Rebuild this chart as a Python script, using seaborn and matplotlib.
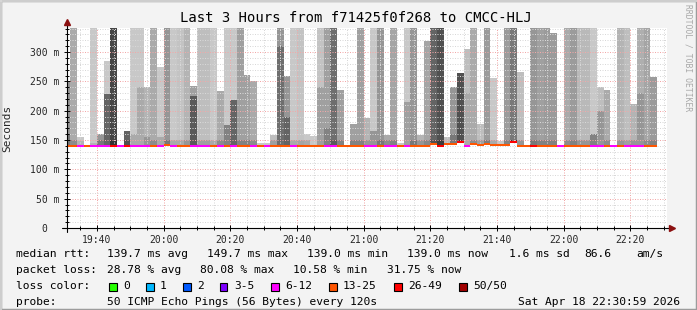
import numpy as np
import pandas as pd
import matplotlib
matplotlib.use("Agg")
import matplotlib.pyplot as plt
from matplotlib.patches import Rectangle
from matplotlib.ticker import FixedLocator, MultipleLocator
import seaborn as sns

sns.set_theme(style="white")
plt.rcParams['font.family'] = ['DejaVu Sans Mono', 'DejaVu Sans']

W, H = 697, 310

# ---------------- data ----------------
first_column_start = 30   # minutes after 19:00 (19:30)
step_minutes = 2          # one column per 120 s probe

# upper edge of the smoke (ms); 345 = beyond the top of the chart
smoke_top = [250, 345, 156, 141, 345, 161, 284, 345, 141, 165,
             345, 345, 241, 345, 275, 345, 345, 345, 345, 242,
             345, 345, 345, 234, 345, 345, 345, 261, 251, 145,
             145, 159, 345, 260, 345, 345, 160, 157, 345, 345,
             345, 235, 142, 177, 345, 188, 345, 345, 159, 345,
             145, 345, 345, 159, 318, 345, 345, 155, 241, 265,
             306, 345, 177, 345, 255, 148, 345, 345, 266, 141,
             345, 345, 345, 332, 141, 345, 345, 345, 345, 345,
             241, 235, 141, 345, 345, 211, 345, 345, 258]
# gray level (0-255) of the outer smoke
smoke_gray = [150, 170, 200, 200, 200, 150, 200, 70, 200, 100,
              200, 200, 180, 170, 200, 150, 200, 195, 180, 160,
              190, 190, 200, 170, 200, 200, 160, 160, 170, 200,
              200, 190, 150, 150, 200, 195, 200, 200, 195, 160,
              110, 160, 200, 160, 160, 180, 200, 150, 170, 165,
              200, 200, 150, 180, 165, 100, 80, 190, 150, 80,
              190, 170, 190, 155, 200, 200, 155, 120, 190, 200,
              150, 160, 155, 155, 200, 170, 155, 185, 185, 200,
              190, 170, 200, 180, 190, 180, 175, 165, 155]
# upper edge (ms) and gray level of the dense smoke core near the median
core_top = [160, 150, 148, 141, 145, 150, 229, 150, 141, 150,
            160, 240, 155, 150, 155, 150, 150, 150, 150, 225,
            150, 150, 150, 150, 176, 218, 150, 150, 150, 145,
            145, 150, 310, 190, 150, 150, 150, 150, 241, 170,
            150, 150, 142, 150, 150, 150, 165, 150, 150, 150,
            145, 215, 150, 150, 150, 150, 150, 150, 160, 150,
            230, 150, 150, 150, 150, 148, 150, 150, 150, 141,
            150, 150, 150, 150, 141, 150, 150, 150, 150, 160,
            200, 150, 141, 150, 150, 150, 230, 150, 150]
core_gray = [120, 140, 180, 200, 180, 120, 100, 50, 200, 80,
             170, 170, 150, 140, 170, 120, 170, 170, 150, 90,
             160, 160, 170, 140, 130, 100, 130, 130, 140, 200,
             200, 160, 110, 100, 170, 165, 170, 200, 160, 130,
             90, 130, 200, 130, 130, 150, 150, 120, 140, 130,
             200, 160, 120, 150, 135, 80, 60, 190, 120, 60,
             170, 140, 160, 125, 170, 200, 130, 60, 150, 200,
             120, 130, 130, 130, 200, 140, 130, 150, 150, 130,
             150, 140, 200, 150, 160, 150, 150, 140, 130]
# median rtt (ms)
median_rtt = [139.5, 139.5, 139.5, 139.5, 139.5, 139.5, 140.5, 139.5, 139.5, 139.5,
              139.5, 139.5, 139.5, 139.5, 139.5, 140.8, 139.5, 139.5, 139.5, 139.5,
              139.5, 139.5, 139.5, 139.5, 139.5, 139.5, 139.5, 139.5, 139.5, 139.5,
              139.5, 139.5, 139.5, 139.5, 139.5, 139.5, 139.5, 139.5, 139.5, 139.5,
              139.5, 139.5, 139.5, 139.5, 139.5, 139.5, 139.5, 139.5, 139.5, 139.5,
              139.5, 139.5, 139.5, 139.5, 139.5, 142.7, 140.0, 142.7, 142.7, 147.0,
              140.0, 143.0, 141.5, 143.8, 141.5, 141.5, 141.5, 146.6, 140.0, 140.0,
              140.0, 139.5, 139.5, 139.5, 139.5, 139.5, 139.5, 139.5, 139.5, 139.5,
              139.5, 139.5, 139.5, 139.5, 139.5, 139.5, 139.5, 139.5, 139.5]
# loss class of each column
loss_class = ["13-25", "13-25", "6-12", "13-25", "6-12", "6-12", "6-12", "26-49", "6-12", "26-49",
              "6-12", "6-12", "6-12", "13-25", "6-12", "13-25", "6-12", "13-25", "13-25", "6-12",
              "6-12", "6-12", "13-25", "6-12", "13-25", "6-12", "13-25", "13-25", "6-12", "13-25",
              "6-12", "13-25", "13-25", "13-25", "6-12", "13-25", "13-25", "13-25", "13-25", "6-12",
              "6-12", "13-25", "13-25", "13-25", "13-25", "6-12", "6-12", "13-25", "6-12", "6-12",
              "13-25", "6-12", "13-25", "13-25", "13-25", "13-25", "26-49", "13-25", "13-25", "26-49",
              "6-12", "13-25", "13-25", "13-25", "13-25", "13-25", "13-25", "26-49", "13-25", "13-25",
              "26-49", "13-25", "13-25", "13-25", "6-12", "13-25", "13-25", "13-25", "13-25", "6-12",
              "6-12", "13-25", "6-12", "13-25", "6-12", "6-12", "6-12", "13-25", "13-25"]

loss_labels = ["0", "1", "2", "3-5", "6-12", "13-25", "26-49", "50/50"]
loss_colors = ["#26ff00", "#00b8ff", "#0059ff", "#7e00ff", "#ff00ff", "#ff5500", "#ff0000", "#a10000"]

title = "Last 3 Hours from f71425f0f268 to CMCC-HLJ"
ytick_values = [0, 50, 100, 150, 200, 250, 300]
ytick_labels = ["0  ", "50 m", "100 m", "150 m", "200 m", "250 m", "300 m"]
xtick_labels = ["19:40", "20:00", "20:20", "20:40", "21:00", "21:20", "21:40", "22:00", "22:20"]

rtt_stats = ["139.7 ms avg", "149.7 ms max", "139.0 ms min", "139.0 ms now", "1.6 ms sd", "86.6", "am/s"]
loss_stats = ["28.78 % avg", "80.08 % max", "10.58 % min", "31.75 % now"]
probe_text = "50 ICMP Echo Pings (56 Bytes) every 120s"
stamp_text = "Sat Apr 18 22:30:59 2026"

# ---------------- figure ----------------
BG = "#f3f3f3"
fig = plt.figure(figsize=(W / 100, H / 100), dpi=100, facecolor=BG)
ax = fig.add_axes([67 / W, (H - 228) / H, 600 / W, 200 / H])
ax.set_facecolor("white")

n = len(smoke_top)
centers = [first_column_start + step_minutes * i + step_minutes / 2 for i in range(n)]
lefts = [first_column_start + step_minutes * i for i in range(n)]


def gray_hex(g):
    g = int(g)
    return "#{0:02x}{0:02x}{0:02x}".format(g)


def smoke_layer(values, grays, name):
    keys = [f"{name}{i}" for i in range(n)]
    df = pd.DataFrame({"t": centers, "v": values, "key": keys})
    pal = {k: gray_hex(g) for k, g in zip(keys, grays)}
    sns.barplot(data=df, x="t", y="v", hue="key", palette=pal, native_scale=True,
                width=1, dodge=False, errorbar=None, saturation=1, legend=False,
                linewidth=0, edgecolor="none", ax=ax, zorder=1)


smoke_layer(smoke_top, smoke_gray, "outer")
smoke_layer(core_top, core_gray, "core")
# clear the area under the smoke (below the fastest pings)
base_df = pd.DataFrame({"t": centers, "v": [m - 1.6 for m in median_rtt]})
sns.barplot(data=base_df, x="t", y="v", color="white", native_scale=True, width=1,
            errorbar=None, saturation=1, linewidth=0, edgecolor="none", ax=ax, zorder=1)

# median line coloured by loss
col_of = dict(zip(loss_labels, loss_colors))
ax.hlines(median_rtt, lefts, [l + step_minutes for l in lefts],
          colors=[col_of[c] for c in loss_class], linewidth=1.45, zorder=4)

# axes ranges / grid (x in minutes after 19:00)
ax.set_xlim(31, 211)
ax.set_ylim(0, 341)
major_x = [40 + 20 * k for k in range(len(xtick_labels))]
ax.xaxis.set_major_locator(FixedLocator(major_x))
ax.xaxis.set_minor_locator(MultipleLocator(5))
ax.set_xticklabels(xtick_labels)
ax.yaxis.set_major_locator(FixedLocator(ytick_values))
ax.yaxis.set_minor_locator(MultipleLocator(10))
ax.set_yticklabels(ytick_labels)
ax.set_xlabel("")
ax.set_ylabel("Seconds", fontsize=8, family="DejaVu Sans Mono")
ax.yaxis.set_label_coords((12 - 67) / 600, 0.5)

ax.grid(which="minor", color="#d8d8d8", linestyle=(0, (1, 1.5)), linewidth=0.72)
ax.grid(which="major", color="#f2a8a8", linestyle=(0, (1, 1.5)), linewidth=0.72)
ax.set_axisbelow(False)

ax.tick_params(which="major", direction="inout", length=4, width=0.7, color="black",
               labelsize=7, pad=3.2)
ax.tick_params(which="minor", direction="inout", length=3, width=0.7, color="black")
ax.tick_params(axis="x", which="both", bottom=True, top=False)
ax.tick_params(axis="y", which="both", left=True, right=False)
for lab in ax.get_xticklabels() + ax.get_yticklabels():
    lab.set_family("DejaVu Sans Mono")

for s in ax.spines.values():
    s.set_visible(False)

# axis lines with arrows
ax.plot([0, 0], [-0.02, 1.015], transform=ax.transAxes, color="black", lw=0.8,
        clip_on=False, zorder=5)
ax.plot([-0.008, 1.003], [0, 0], transform=ax.transAxes, color="black", lw=0.8,
        clip_on=False, zorder=5)
ax.plot([0], [1.03], marker="^", markersize=4.5, color="#8b1010", transform=ax.transAxes,
        clip_on=False, zorder=6)
ax.plot([1.009], [0], marker=">", markersize=4.5, color="#8b1010", transform=ax.transAxes,
        clip_on=False, zorder=6)

# title and watermark
fig.text(355.5 / W, 1 - 18 / H, title, ha="center", va="center", fontsize=10,
         family="DejaVu Sans Mono", color="black")
fig.text(688 / W, 1 - 4 / H, "RRDTOOL / TOBI OETIKER", rotation=270, ha="center",
         va="top", fontsize=5.8, family="DejaVu Sans Mono", color="#a8a8a8")

# legend lines
LF = 8.1


def ftext(x, y, s):
    fig.text(x / W, 1 - y / H, s, ha="left", va="center", fontsize=LF,
             family="DejaVu Sans Mono", color="black")


ftext(16, 254, "median rtt:")
for x, s in zip([107, 207, 307, 407, 509, 584, 636], rtt_stats):
    ftext(x, 254, s)
ftext(16, 270, "packet loss:")
for x, s in zip([107, 200, 293, 387], loss_stats):
    ftext(x, 270, s)
ftext(16, 286, "loss color:")
box_x = [109, 146, 183, 220, 271, 329, 394, 459]
for x, lab, c in zip(box_x, loss_labels, loss_colors):
    fig.add_artist(Rectangle((x / W, 1 - 290.5 / H), 7.5 / W, 8 / H, transform=fig.transFigure,
                             facecolor=c, edgecolor="black", linewidth=0.8))
    ftext(x + 14, 286, lab)
ftext(16, 302, "probe:")
ftext(107, 302, probe_text)
fig.text(680 / W, 1 - 302 / H, stamp_text, ha="right", va="center", fontsize=LF,
         family="DejaVu Sans Mono", color="black")

# frame shading
fig.add_artist(Rectangle((0, 0), 1, 1, transform=fig.transFigure, fill=False,
                         edgecolor="#9c9c9c", linewidth=2.5))
fig.add_artist(plt.Line2D([0, 1], [1 - 0.5 / H, 1 - 0.5 / H], transform=fig.transFigure,
                          color="#d8d8d8", linewidth=1.2))
fig.add_artist(plt.Line2D([0.5 / W, 0.5 / W], [0, 1], transform=fig.transFigure,
                          color="#d8d8d8", linewidth=1.2))

fig.savefig("out.png", dpi=100, facecolor=BG)
